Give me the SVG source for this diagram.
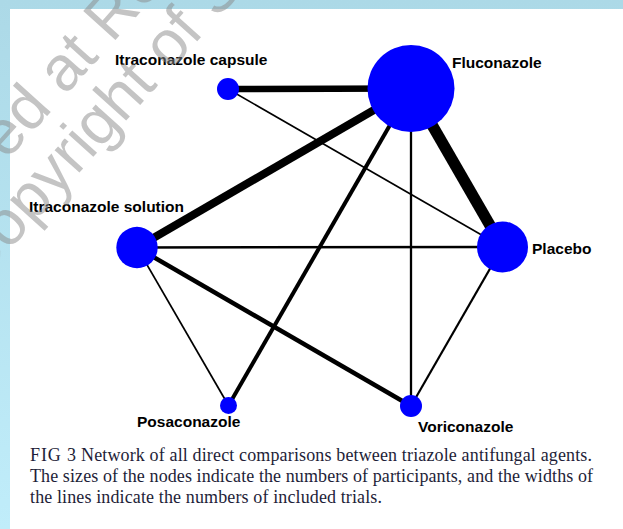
<svg xmlns="http://www.w3.org/2000/svg" width="623" height="529" viewBox="0 0 623 529">
  <defs>
    <linearGradient id="bg" x1="0" y1="0" x2="0" y2="1">
      <stop offset="0" stop-color="#acd9e7"/>
      <stop offset="1" stop-color="#c0edfa"/>
    </linearGradient>
    <style>
      .node { fill: #0000ff; }
      .edge { stroke: #000; stroke-linecap: butt; fill: none; }
      .lbl { font-family: "Liberation Sans", Arial, sans-serif; font-weight: bold; font-size: 15.5px; fill: #000; }
      .cap { font-family: "Liberation Serif", "Times New Roman", serif; font-size: 18px; fill: #1e1e38; }
      .wm { font-family: "Liberation Sans", Arial, sans-serif; font-size: 63px; fill: #8a8a8a; fill-opacity: 0.5; }
    </style>
  </defs>
  <rect x="0" y="0" width="623" height="529" fill="url(#bg)"/>
  <rect x="10" y="9" width="613" height="520" fill="#ffffff"/>

  <g id="connectors">
    <line class="edge" x1="411" y1="88.5" x2="228" y2="89" stroke-width="6.5"/>
    <line class="edge" x1="411" y1="88.5" x2="137" y2="247.5" stroke-width="8"/>
    <line class="edge" x1="411" y1="88.5" x2="502.5" y2="247" stroke-width="11.5"/>
    <line class="edge" x1="411" y1="88.5" x2="228.5" y2="405.5" stroke-width="4"/>
    <line class="edge" x1="411" y1="88.5" x2="411" y2="406" stroke-width="2.3"/>
    <line class="edge" x1="228" y1="89" x2="502.5" y2="247" stroke-width="1.6"/>
    <line class="edge" x1="137" y1="247.5" x2="502.5" y2="247" stroke-width="2.5"/>
    <line class="edge" x1="137" y1="247.5" x2="411" y2="406" stroke-width="4.5"/>
    <line class="edge" x1="137" y1="247.5" x2="228.5" y2="405.5" stroke-width="1.7"/>
    <line class="edge" x1="502.5" y1="247" x2="411" y2="406" stroke-width="2.2"/>
  </g>

  <g id="fluconazole">
    <circle class="node" cx="411" cy="88.5" r="43.5"/>
    <text class="lbl" x="452" y="68">Fluconazole</text>
  </g>
  <g id="itraconazole-capsule">
    <circle class="node" cx="228" cy="89" r="11"/>
    <text class="lbl" x="115" y="65">Itraconazole capsule</text>
  </g>
  <g id="itraconazole-solution">
    <circle class="node" cx="137" cy="247.5" r="20.7"/>
    <text class="lbl" x="29" y="212">Itraconazole solution</text>
  </g>
  <g id="placebo">
    <circle class="node" cx="502.5" cy="247" r="25.5"/>
    <text class="lbl" x="532" y="254">Placebo</text>
  </g>
  <g id="posaconazole">
    <circle class="node" cx="228.5" cy="405.5" r="8.5"/>
    <text class="lbl" x="137" y="427">Posaconazole</text>
  </g>
  <g id="voriconazole">
    <circle class="node" cx="411" cy="406" r="11"/>
    <text class="lbl" x="418" y="432">Voriconazole</text>
  </g>

  <g id="caption">
    <text class="cap" x="30" y="461"><tspan textLength="46">FIG 3</tspan><tspan x="81" textLength="511">Network of all direct comparisons between triazole antifungal agents.</tspan></text>
    <text class="cap" x="30" y="482" textLength="563">The sizes of the nodes indicate the numbers of participants, and the widths of</text>
    <text class="cap" x="30" y="503" textLength="352">the lines indicate the numbers of included trials.</text>
  </g>

  <g id="watermark">
    <text class="wm" transform="translate(6.5,161) rotate(-48)">ed at Re</text>
    <text class="wm" transform="translate(-22,285) rotate(-48)">Copyright of S</text>
  </g>
</svg>
